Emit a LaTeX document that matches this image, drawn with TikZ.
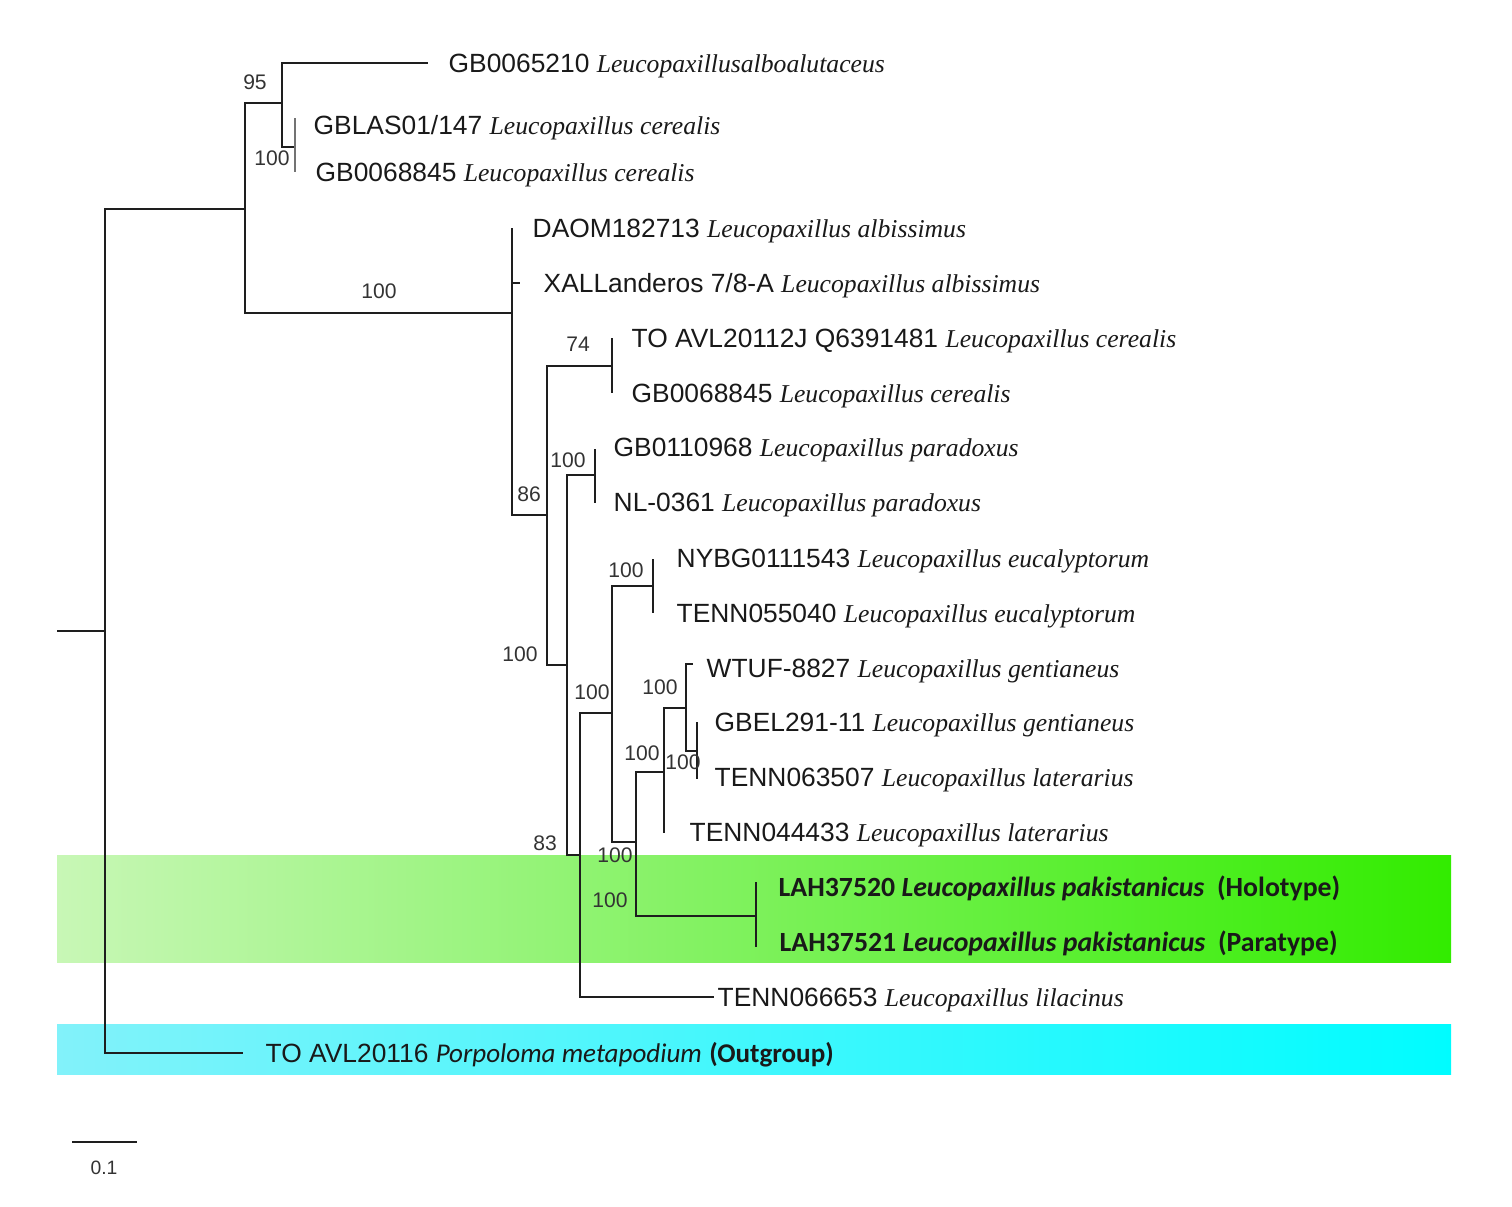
\documentclass[tikz,border=0pt]{standalone}
\usepackage{fontspec}
\setmainfont{Liberation Sans}
\newfontfamily\spfont{Liberation Serif}
\newfontfamily\calfont{Carlito}
\usepackage{xcolor}
\definecolor{cBranch}{RGB}{30, 30, 30}
\definecolor{cNewL}{RGB}{200, 247, 182}
\definecolor{cNewM}{RGB}{128, 245, 92}
\definecolor{cNewR}{RGB}{50, 236, 0}
\definecolor{cOutL}{RGB}{130, 242, 250}
\definecolor{cOutM}{RGB}{40, 248, 255}
\definecolor{cOutR}{RGB}{0, 252, 255}
\newcommand{\spn}[1]{{\spfont\itshape\fontsize{7.3}{9}\selectfont #1}}

\begin{document}
\begin{tikzpicture}[
    x=0.01cm, y=-0.01cm,
    branch/.style={draw=cBranch, line width=0.8pt},
    taxon/.style={anchor=base west, inner sep=0pt, text=black!90,
        font=\fontsize{7.5}{9}\selectfont},
    newsp/.style={taxon, font=\calfont\bfseries\fontsize{7.9}{10}\selectfont},
    boot/.style={inner sep=0pt, text=black!80, font=\fontsize{6}{7}\selectfont}
]
\useasboundingbox (0,0) rectangle (1512,1207);

% highlight bands
\shade[left color=cNewL, middle color=cNewM, right color=cNewR] (57,856) rectangle (1451,963);
\shade[left color=cOutL, middle color=cOutM, right color=cOutR] (57,1025) rectangle (1451,1074);

% internal nodes
\coordinate (stub) at (57,631);
\coordinate (root) at (105,631);
\coordinate (nIn) at (245,209);
\coordinate (n95) at (282,103);
\coordinate (nCer) at (295,147);
\coordinate (nAlb) at (512,313);
\coordinate (n86) at (547,515);
\coordinate (n74) at (612,366);
\coordinate (nB) at (567,665);
\coordinate (nPar) at (595,475);
\coordinate (n83) at (580,855);
\coordinate (nC) at (612,713);
\coordinate (nEuc) at (653,586);
\coordinate (nD) at (636,842);
\coordinate (nE) at (664,772);
\coordinate (nGen) at (686,708);
\coordinate (nLat) at (697,751);
\coordinate (nPak) at (756,916);

% tips
\coordinate (t1) at (428,63);
\coordinate (t2) at (295,118);
\coordinate (t3) at (295,172);
\coordinate (t4) at (512,228);
\coordinate (t5) at (520,283);
\coordinate (t6) at (612,338);
\coordinate (t7) at (612,393);
\coordinate (t8) at (595,449);
\coordinate (t9) at (595,503);
\coordinate (t10) at (653,559);
\coordinate (t11) at (653,613);
\coordinate (t12) at (693,664);
\coordinate (t13) at (697,722);
\coordinate (t14) at (697,779);
\coordinate (t15) at (664,833);
\coordinate (t16) at (756,882);
\coordinate (t17) at (756,947);
\coordinate (t18) at (714,997);
\coordinate (t19) at (243,1053);

% branches
\draw[branch] (stub) -- (root);
\draw[branch] (root) |- (nIn);
\draw[branch] (root) |- (t19);
\draw[branch] (nIn) |- (n95);
\draw[branch] (nIn) |- (nAlb);
\draw[branch] (n95) |- (t1);
\draw[branch] (n95) |- (nCer);
\draw[branch, draw=black!55] (nCer) |- (t2);
\draw[branch, draw=black!55] (nCer) |- (t3);
\draw[branch] (nAlb) |- (t4);
\draw[branch] (nAlb) |- (t5);
\draw[branch] (nAlb) |- (n86);
\draw[branch] (n86) |- (n74);
\draw[branch] (n86) |- (nB);
\draw[branch] (n74) |- (t6);
\draw[branch] (n74) |- (t7);
\draw[branch] (nB) |- (nPar);
\draw[branch] (nB) |- (n83);
\draw[branch] (nPar) |- (t8);
\draw[branch] (nPar) |- (t9);
\draw[branch] (n83) |- (nC);
\draw[branch] (n83) |- (t18);
\draw[branch] (nC) |- (nEuc);
\draw[branch] (nC) |- (nD);
\draw[branch] (nEuc) |- (t10);
\draw[branch] (nEuc) |- (t11);
\draw[branch] (nD) |- (nE);
\draw[branch] (nD) |- (nPak);
\draw[branch] (nE) |- (nGen);
\draw[branch] (nE) |- (t15);
\draw[branch] (nGen) |- (t12);
\draw[branch] (nGen) |- (nLat);
\draw[branch] (nLat) |- (t13);
\draw[branch] (nLat) |- (t14);
\draw[branch] (nPak) |- (t16);
\draw[branch] (nPak) |- (t17);

% taxon labels
\node[taxon] (l1) at (448,73) {GB0065210 \spn{Leucopaxillusalboalutaceus}};
\node[taxon] (l2) at (313,135) {GBLAS01/147 \spn{Leucopaxillus cerealis}};
\node[taxon] (l3) at (315,182) {GB0068845 \spn{Leucopaxillus cerealis}};
\node[taxon] (l4) at (532,238) {DAOM182713 \spn{Leucopaxillus albissimus}};
\node[taxon] (l5) at (543,293) {XALLanderos 7/8-A \spn{Leucopaxillus albissimus}};
\node[taxon] (l6) at (631,348) {TO AVL20112J Q6391481 \spn{Leucopaxillus cerealis}};
\node[taxon] (l7) at (631,403) {GB0068845 \spn{Leucopaxillus cerealis}};
\node[taxon] (l8) at (613,457) {GB0110968 \spn{Leucopaxillus paradoxus}};
\node[taxon] (l9) at (613,512) {NL-0361 \spn{Leucopaxillus paradoxus}};
\node[taxon] (l10) at (676,568) {NYBG0111543 \spn{Leucopaxillus eucalyptorum}};
\node[taxon] (l11) at (676,623) {TENN055040 \spn{Leucopaxillus eucalyptorum}};
\node[taxon] (l12) at (706,678) {WTUF-8827 \spn{Leucopaxillus gentianeus}};
\node[taxon] (l13) at (714,732) {GBEL291-11 \spn{Leucopaxillus gentianeus}};
\node[taxon] (l14) at (714,787) {TENN063507 \spn{Leucopaxillus laterarius}};
\node[taxon] (l15) at (689,842) {TENN044433 \spn{Leucopaxillus laterarius}};
\node[newsp] (l16) at (778,897) {LAH37520 \textit{Leucopaxillus pakistanicus}\ \ (Holotype)};
\node[newsp] (l17) at (779,952) {LAH37521 \textit{Leucopaxillus pakistanicus}\ \ (Paratype)};
\node[taxon] (l18) at (717,1007) {TENN066653 \spn{Leucopaxillus lilacinus}};
\node[taxon] (l19) at (265,1062) {TO AVL20116 {\calfont\itshape\fontsize{7.7}{10}\selectfont Porpoloma metapodium} {\calfont\bfseries\fontsize{7.7}{10}\selectfont (Outgroup)}};

% bootstrap values
\node[boot] (b1) at (255,82) {95};
\node[boot] (b2) at (272,158) {100};
\node[boot] (b3) at (379,291) {100};
\node[boot] (b4) at (578,344) {74};
\node[boot] (b5) at (568,460) {100};
\node[boot] (b6) at (529,494) {86};
\node[boot] (b7) at (520,654) {100};
\node[boot] (b8) at (626,570) {100};
\node[boot] (b9) at (592,692) {100};
\node[boot] (b10) at (660,687) {100};
\node[boot] (b11) at (642,753) {100};
\node[boot] (b12) at (683,762) {100};
\node[boot] (b13) at (545,843) {83};
\node[boot] (b14) at (615,855) {100};
\node[boot] (b15) at (610,900) {100};

% scale bar
\coordinate (sbL) at (72,1142);
\coordinate (sbR) at (137,1142);
\draw[branch] (sbL) -- (sbR);
\node[boot, font=\fontsize{5.5}{7}\selectfont] (sb) at (104,1168) {0.1};

\end{tikzpicture}
\end{document}
